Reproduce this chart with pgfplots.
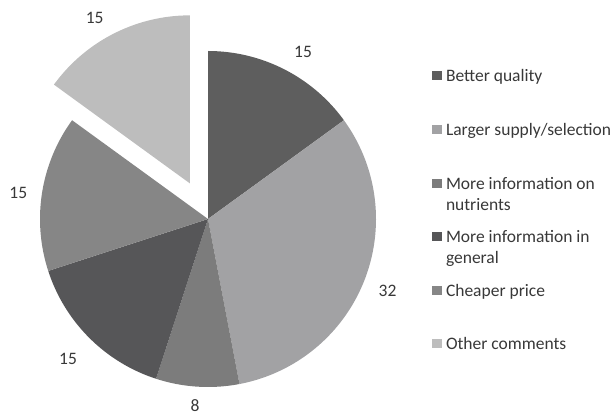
\documentclass[border=0pt]{standalone}
\usepackage{pgfplots}
\pgfplotsset{compat=1.18}
\usepackage{fontspec}
\setmainfont{Carlito}
\definecolor{cBQ}{HTML}{5E5E5E}
\definecolor{cLS}{HTML}{A2A2A4}
\definecolor{cNU}{HTML}{7C7C7C}
\definecolor{cIG}{HTML}{565658}
\definecolor{cCP}{HTML}{868686}
\definecolor{cOC}{HTML}{BDBDBD}
\definecolor{txt}{HTML}{383838}
\begin{document}
\begin{tikzpicture}
% values (percent)
\def\vBQ{15}\def\vLS{32}\def\vNU{8}\def\vIG{15}\def\vCP{15}\def\vOC{15}
\pgfmathsetmacro\aA{90}
\pgfmathsetmacro\aB{\aA-3.6*\vBQ}
\pgfmathsetmacro\aC{\aB-3.6*\vLS}
\pgfmathsetmacro\aD{\aC-3.6*\vNU}
\pgfmathsetmacro\aE{\aD-3.6*\vIG}
\pgfmathsetmacro\aF{\aE-3.6*\vCP}
\pgfmathsetmacro\aG{\aF-3.6*\vOC}
\pgfmathsetmacro\aMid{(\aF+\aG)/2}
\pgfmathsetmacro\ox{208+40*cos(\aMid)}
\pgfmathsetmacro\oy{197+40*sin(\aMid)}
\begin{axis}[width=615bp,height=416bp,scale only axis,
  xmin=0,xmax=615,ymin=0,ymax=416,hide axis,clip=false,
  legend cell align=left,
  legend style={at={(axis cs:432,347.6)},anchor=north west,draw=none,fill=none,
    inner sep=0pt,outer sep=0pt,row sep=0pt,column sep=4.5bp,
    nodes={inner sep=0pt,outer sep=0pt,text height=13.6bp,text depth=40bp,
      font=\fontsize{17.5bp}{21bp}\selectfont,text=txt}},
  legend image code/.code={\fill[#1] (0bp,14.7bp) rectangle (9.5bp,23.7bp);}]
\addplot[fill=cBQ,draw=none,domain=\aB:\aA,samples=60,variable=\t]
  ({208+168*cos(\t)},{197+168*sin(\t)}) -- (axis cs:208,197) -- cycle;
\addlegendentry{Better quality}
\addplot[fill=cLS,draw=none,domain=\aC:\aB,samples=100,variable=\t]
  ({208+168*cos(\t)},{197+168*sin(\t)}) -- (axis cs:208,197) -- cycle;
\addlegendentry{Larger supply/selection}
\addplot[fill=cNU,draw=none,domain=\aD:\aC,samples=40,variable=\t]
  ({208+168*cos(\t)},{197+168*sin(\t)}) -- (axis cs:208,197) -- cycle;
\addlegendentry{{\begin{tabular}[t]{@{}l@{}}More information on\\nutrients\end{tabular}}}
\addplot[fill=cIG,draw=none,domain=\aE:\aD,samples=60,variable=\t]
  ({208+168*cos(\t)},{197+168*sin(\t)}) -- (axis cs:208,197) -- cycle;
\addlegendentry{{\begin{tabular}[t]{@{}l@{}}More information in\\general\end{tabular}}}
\addplot[fill=cCP,draw=none,domain=\aF:\aE,samples=60,variable=\t]
  ({208+168*cos(\t)},{197+168*sin(\t)}) -- (axis cs:208,197) -- cycle;
\addlegendentry{Cheaper price}
\addplot[fill=cOC,draw=none,domain=\aG:\aF,samples=60,variable=\t]
  ({\ox+168*cos(\t)},{\oy+168*sin(\t)}) -- (axis cs:\ox,\oy) -- cycle;
\addlegendentry{Other comments}
\begin{scope}[every node/.style={inner sep=0pt,font=\fontsize{17.5bp}{21bp}\selectfont,text=txt}]
\node at (axis cs:303,364.5) {15};
\node at (axis cs:387.5,125) {32};
\node at (axis cs:195,10) {8};
\node at (axis cs:68,57) {15};
\node at (axis cs:18.3,223.5) {15};
\node at (axis cs:94.7,398) {15};
\end{scope}
\end{axis}
\pgfresetboundingbox
\useasboundingbox (current axis.south west) rectangle (current axis.north east);
\end{tikzpicture}
\end{document}
